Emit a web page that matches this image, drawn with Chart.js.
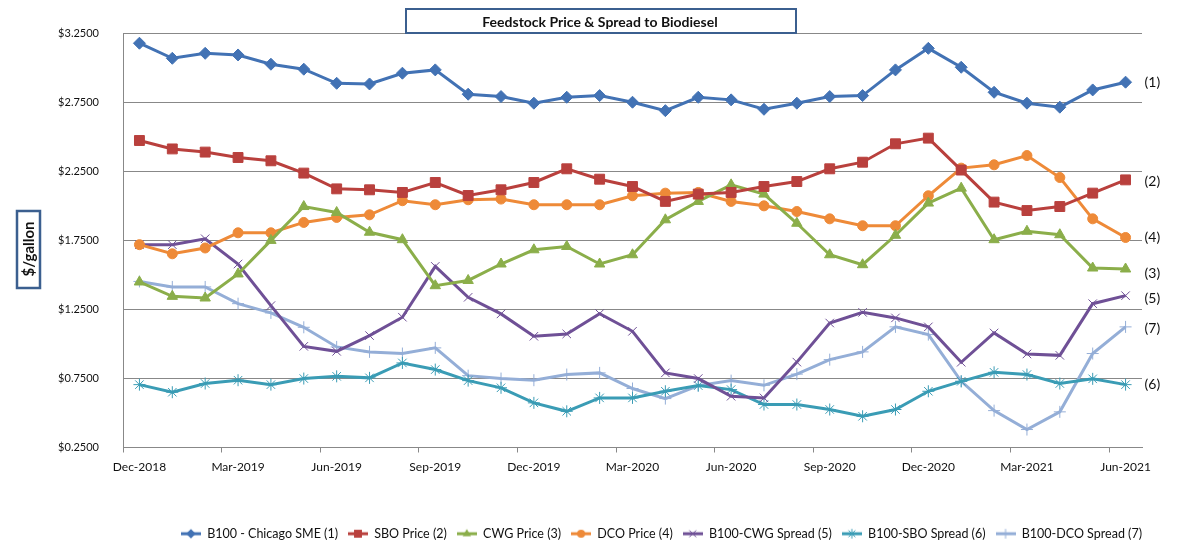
<!DOCTYPE html>
<html>
<head>
<meta charset="utf-8">
<title>Feedstock Price & Spread to Biodiesel</title>
<script src="https://cdn.jsdelivr.net/npm/chart.js@4/dist/chart.umd.min.js"></script>
<style>
    html, body { margin: 0; padding: 0; background: #ffffff; }
    #wrap { position: relative; width: 1193px; height: 550px; }
</style>
</head>
<body>
<div id="wrap"><canvas id="chart"></canvas></div>
<script>
const months = [
    'Dec-2018', 'Jan-2019', 'Feb-2019', 'Mar-2019', 'Apr-2019', 'May-2019', 'Jun-2019', 'Jul-2019',
    'Aug-2019', 'Sep-2019', 'Oct-2019', 'Nov-2019', 'Dec-2019', 'Jan-2020', 'Feb-2020', 'Mar-2020',
    'Apr-2020', 'May-2020', 'Jun-2020', 'Jul-2020', 'Aug-2020', 'Sep-2020', 'Oct-2020', 'Nov-2020',
    'Dec-2020', 'Jan-2021', 'Feb-2021', 'Mar-2021', 'Apr-2021', 'May-2021', 'Jun-2021'
];

const b100Chicago = [3.176, 3.067, 3.103, 3.091, 3.024, 2.988, 2.886, 2.881, 2.959, 2.983, 2.807, 2.790, 2.742, 2.785, 2.797, 2.749,
    2.688, 2.785, 2.766, 2.698, 2.742, 2.790, 2.797, 2.983, 3.139, 3.002, 2.821, 2.742, 2.713, 2.838, 2.894];
const sboPrice = [2.472, 2.411, 2.388, 2.349, 2.325, 2.236, 2.122, 2.115, 2.096, 2.168, 2.074, 2.115, 2.168, 2.267, 2.192, 2.139,
    2.031, 2.084, 2.096, 2.139, 2.175, 2.267, 2.315, 2.448, 2.489, 2.258, 2.026, 1.965, 1.994, 2.091, 2.187];
const cwgPrice = [1.448, 1.344, 1.332, 1.506, 1.749, 1.994, 1.951, 1.808, 1.754, 1.421, 1.459, 1.578, 1.681, 1.705, 1.578, 1.645,
    1.898, 2.031, 2.151, 2.084, 1.873, 1.645, 1.573, 1.786, 2.019, 2.127, 1.754, 1.815, 1.790, 1.549, 1.542];
const dcoPrice = [1.718, 1.652, 1.694, 1.804, 1.804, 1.879, 1.915, 1.934, 2.036, 2.007, 2.043, 2.048, 2.007, 2.007, 2.007, 2.072,
    2.091, 2.096, 2.031, 1.999, 1.958, 1.905, 1.855, 1.855, 2.072, 2.272, 2.296, 2.363, 2.204, 1.905, 1.770];
const cwgSpread = [1.718, 1.718, 1.761, 1.578, 1.277, 0.982, 0.946, 1.060, 1.193, 1.561, 1.337, 1.217, 1.055, 1.072, 1.219, 1.091,
    0.790, 0.749, 0.621, 0.609, 0.868, 1.151, 1.228, 1.188, 1.123, 0.867, 1.079, 0.927, 0.917, 1.291, 1.349];
const sboSpread = [0.705, 0.650, 0.713, 0.737, 0.705, 0.749, 0.765, 0.754, 0.862, 0.814, 0.734, 0.682, 0.573, 0.512, 0.609, 0.609,
    0.657, 0.698, 0.669, 0.561, 0.561, 0.525, 0.476, 0.525, 0.657, 0.729, 0.794, 0.778, 0.713, 0.747, 0.705];
const dcoSpread = [1.452, 1.412, 1.412, 1.291, 1.224, 1.120, 0.978, 0.942, 0.930, 0.971, 0.770, 0.749, 0.737, 0.778, 0.790, 0.677,
    0.604, 0.698, 0.734, 0.700, 0.781, 0.886, 0.942, 1.123, 1.067, 0.729, 0.517, 0.380, 0.508, 0.930, 1.123];

const yTicks = [0.25, 0.75, 1.25, 1.75, 2.25, 2.75, 3.25];

const FONT = 'Lato, "Open Sans", sans-serif';
const gridGray = '#888888';
const textBlack = '#111111';
const boxBlue = '#3b5f8f';

const series = [
    {label: 'B100 - Chicago SME (1)', tag: '(1)', data: b100Chicago, color: '#4272b4', style: 'rectRot', radius: 6, dy: 0},
    {label: 'SBO Price (2)', tag: '(2)', data: sboPrice, color: '#b9403d', style: 'rect', radius: 7, dy: 2},
    {label: 'CWG Price (3)', tag: '(3)', data: cwgPrice, color: '#8bae4a', style: 'triangle', radius: 6, dy: 4},
    {label: 'DCO Price (4)', tag: '(4)', data: dcoPrice, color: '#ee8a38', style: 'circle', radius: 5, dy: 0},
    {label: 'B100-CWG Spread (5)', tag: '(5)', data: cwgSpread, color: '#6f5096', style: 'crossRot', radius: 6, dy: 3},
    {label: 'B100-SBO Spread (6)', tag: '(6)', data: sboSpread, color: '#3a9cb5', style: 'star', radius: 6, dy: 0},
    {label: 'B100-DCO Spread (7)', tag: '(7)', data: dcoSpread, color: '#94aed7', style: 'cross', radius: 6, dy: 2},
];

// small line + marker swatch for the legend, Excel style
const drawMarker = (c, style, x, y, r) => {
    c.beginPath();
    if (style === 'rectRot') {
        c.moveTo(x, y - r); c.lineTo(x + r, y); c.lineTo(x, y + r); c.lineTo(x - r, y); c.closePath(); c.fill();
    } else if (style === 'rect') {
        const s = r * Math.SQRT1_2;
        c.rect(x - s, y - s, 2 * s, 2 * s); c.fill();
    } else if (style === 'triangle') {
        c.moveTo(x, y - r); c.lineTo(x + r * 0.87, y + r * 0.5); c.lineTo(x - r * 0.87, y + r * 0.5); c.closePath(); c.fill();
    } else if (style === 'circle') {
        c.arc(x, y, r, 0, Math.PI * 2); c.fill();
    } else {
        const d = r * Math.SQRT1_2;
        if (style === 'crossRot' || style === 'star') {
            c.moveTo(x - d, y - d); c.lineTo(x + d, y + d); c.moveTo(x + d, y - d); c.lineTo(x - d, y + d);
        }
        if (style === 'cross' || style === 'star') {
            c.moveTo(x, y - r); c.lineTo(x, y + r); c.moveTo(x - r, y); c.lineTo(x + r, y);
        }
        c.lineWidth = 1;
        c.stroke();
    }
};

const legendIcon = (s) => {
    const cv = document.createElement('canvas');
    cv.width = 20;
    cv.height = 12;
    const c = cv.getContext('2d');
    c.strokeStyle = s.color;
    c.fillStyle = s.color;
    c.lineWidth = 3;
    c.beginPath();
    c.moveTo(0, 6);
    c.lineTo(20, 6);
    c.stroke();
    drawMarker(c, s.style, 10, 6, s.radius * 0.8);
    return cv;
};

const datasets = series.map((s) => ({
    label: s.label,
    data: s.data,
    borderColor: s.color,
    backgroundColor: s.color,
    borderWidth: 3,
    tension: 0,
    pointStyle: s.style,
    pointRadius: s.radius,
    pointHoverRadius: s.radius,
    pointBackgroundColor: s.color,
    pointBorderColor: s.color,
    pointBorderWidth: 1,
}));

const titleBox = {
    id: 'titleBox',
    afterDraw(c) {
        const ctx = c.ctx;
        ctx.save();
        ctx.fillStyle = '#ffffff';
        ctx.fillRect(406, 9, 390, 24);
        ctx.strokeStyle = boxBlue;
        ctx.lineWidth = 2;
        ctx.strokeRect(406, 9, 390, 24);
        ctx.fillStyle = textBlack;
        ctx.font = 'bold 14px ' + FONT;
        ctx.textAlign = 'center';
        ctx.textBaseline = 'middle';
        ctx.fillText('Feedstock Price & Spread to Biodiesel', 600, 22);

        // y axis title box
        ctx.strokeStyle = boxBlue;
        ctx.lineWidth = 2.5;
        ctx.strokeRect(17, 211, 23, 77);
        ctx.translate(29, 249);
        ctx.rotate(-Math.PI / 2);
        ctx.font = 'bold 15px ' + FONT;
        ctx.fillText('$/gallon', 0, 0);
        ctx.restore();
    }
};

const endLabels = {
    id: 'endLabels',
    afterLayout(c) {
        // legend sits a bit further right than the plot edge
        c.legend.left += 10;
        c.legend.right += 10;
    },
    afterDatasetsDraw(c) {
        const ctx = c.ctx;
        ctx.save();
        ctx.font = '14px ' + FONT;
        ctx.fillStyle = textBlack;
        ctx.textAlign = 'left';
        ctx.textBaseline = 'middle';
        series.forEach((s, i) => {
            const pts = c.getDatasetMeta(i).data;
            const last = pts[pts.length - 1];
            ctx.fillText(s.tag, last.x + 19, last.y + s.dy);
        });
        ctx.restore();
    }
};

const ctx = document.getElementById('chart').getContext('2d');

new Chart(ctx, {
    type: 'line',
    data: {
        labels: months,
        datasets: datasets,
    },
    options: {
        responsive: true,
        maintainAspectRatio: false,
        animation: false,
        layout: {
            padding: {top: 33, right: 51, bottom: 0, left: 0},
        },
        scales: {
            x: {
                offset: true,
                afterFit: (scale) => { scale.height = 70; },
                border: {display: true, color: gridGray, width: 1},
                grid: {
                    offset: true,
                    drawOnChartArea: false,
                    drawTicks: true,
                    tickLength: 5,
                    color: (c) => (c.index !== undefined && c.index % 3 === 0) ? gridGray : 'rgba(0,0,0,0)',
                },
                ticks: {
                    autoSkip: false,
                    maxRotation: 0,
                    padding: 7,
                    color: textBlack,
                    font: {family: FONT, size: 12},
                    callback: (value, index) => index % 3 === 0 ? months[index] : '',
                },
            },
            y: {
                min: 0.25,
                max: 3.25,
                afterFit: (scale) => { scale.width = 123; },
                afterBuildTicks: (scale) => { scale.ticks = yTicks.map((v) => ({value: v})); },
                border: {display: true, color: gridGray, width: 1},
                grid: {
                    color: gridGray,
                    drawTicks: false,
                },
                ticks: {
                    padding: 24,
                    color: textBlack,
                    font: {family: FONT, size: 11},
                    callback: (value) => '$' + Number(value).toFixed(4),
                },
            },
        },
        plugins: {
            title: {display: false},
            tooltip: {enabled: false},
            legend: {
                display: true,
                position: 'bottom',
                align: 'end',
                labels: {
                    usePointStyle: true,
                    pointStyleWidth: 20,
                    boxHeight: 12,
                    padding: 10,
                    color: textBlack,
                    font: {family: FONT, size: 12.5},
                    generateLabels: (c) => {
                        const items = Chart.defaults.plugins.legend.labels.generateLabels(c);
                        items.forEach((item, i) => {
                            item.pointStyle = legendIcon(series[i]);
                        });
                        return items;
                    },
                },
            },
        },
    },
    plugins: [titleBox, endLabels],
});
</script>
</body>
</html>
